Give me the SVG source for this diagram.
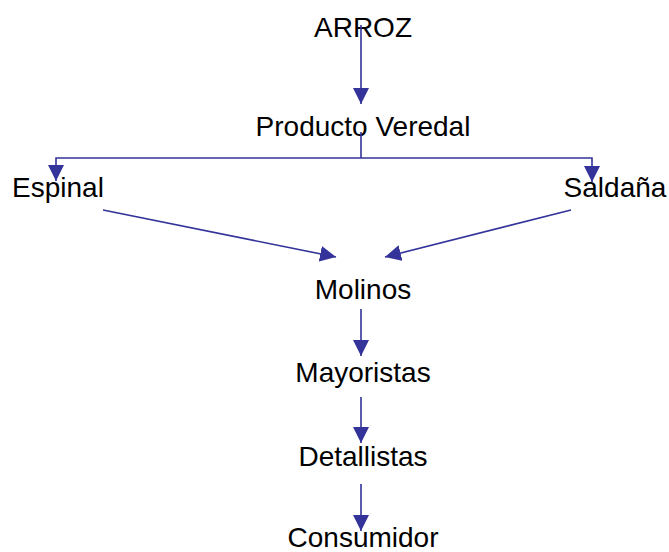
<svg xmlns="http://www.w3.org/2000/svg" width="669" height="552" viewBox="0 0 669 552">
<defs>
<marker id="ah" markerUnits="userSpaceOnUse" markerWidth="16" markerHeight="16" refX="15" refY="7.5" orient="auto" viewBox="0 0 15 15">
<path d="M0,0 L15,7.5 L0,15 z" fill="#333399"/>
</marker>
<style>
.t{font-family:"Liberation Sans",Arial,sans-serif;font-size:28px;fill:#000;text-anchor:middle}
.c{fill:none;stroke:#333399;stroke-width:1.6}
</style>
</defs>
<rect width="669" height="552" fill="#fff"/>
<g id="n-arroz"><text class="t" x="363" y="37">ARROZ</text></g>
<g id="n-producto"><text class="t" x="363" y="136">Producto Veredal</text></g>
<g id="n-espinal"><text class="t" x="58" y="197">Espinal</text></g>
<g id="n-saldana"><text class="t" x="615" y="197">Saldaña</text></g>
<g id="n-molinos"><text class="t" x="363" y="299">Molinos</text></g>
<g id="n-mayoristas"><text class="t" x="363" y="382">Mayoristas</text></g>
<g id="n-detallistas"><text class="t" x="363" y="466">Detallistas</text></g>
<g id="n-consumidor"><text class="t" x="363" y="547">Consumidor</text></g>
<g id="connectors">
<line class="c" x1="361" y1="25" x2="361" y2="104" marker-end="url(#ah)"/>
<line class="c" x1="361" y1="132" x2="361" y2="158"/>
<polyline class="c" points="361,158 56,158 56,181" marker-end="url(#ah)"/>
<polyline class="c" points="361,158 592,158 592,182" marker-end="url(#ah)"/>
<line class="c" x1="103" y1="210" x2="336" y2="257" marker-end="url(#ah)"/>
<line class="c" x1="571" y1="210" x2="385" y2="257" marker-end="url(#ah)"/>
<line class="c" x1="361" y1="309" x2="361" y2="356" marker-end="url(#ah)"/>
<line class="c" x1="361" y1="397" x2="361" y2="443" marker-end="url(#ah)"/>
<line class="c" x1="361" y1="484" x2="361" y2="531" marker-end="url(#ah)"/>
</g>
</svg>
